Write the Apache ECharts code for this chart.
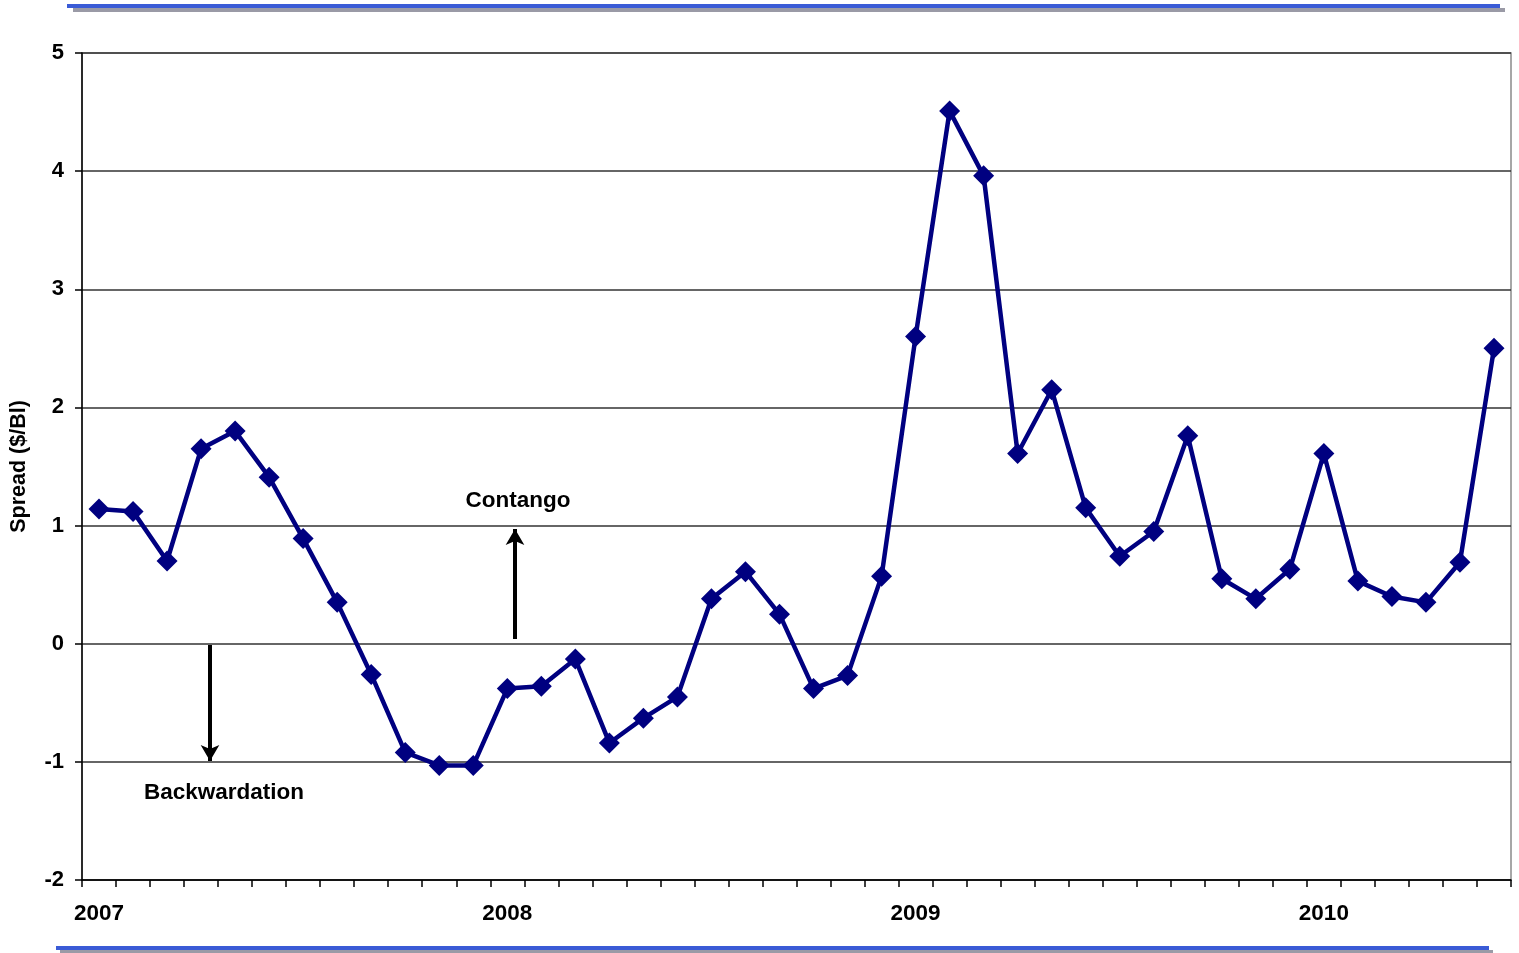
<!DOCTYPE html>
<html>
<head>
<meta charset="utf-8">
<title>Spread ($/Bl)</title>
<script src="https://cdn.jsdelivr.net/npm/echarts@6/dist/echarts.min.js"></script>
<style>
  html, body { margin: 0; padding: 0; background: #fff; }
  #chart { width: 1519px; height: 953px; }
</style>
</head>
<body>
<div id="chart"></div>
<script>
// Monthly spread, Jan 2007 – Jun 2010
const months = [
  '2007-01','2007-02','2007-03','2007-04','2007-05','2007-06','2007-07','2007-08','2007-09','2007-10','2007-11','2007-12',
  '2008-01','2008-02','2008-03','2008-04','2008-05','2008-06','2008-07','2008-08','2008-09','2008-10','2008-11','2008-12',
  '2009-01','2009-02','2009-03','2009-04','2009-05','2009-06','2009-07','2009-08','2009-09','2009-10','2009-11','2009-12',
  '2010-01','2010-02','2010-03','2010-04','2010-05','2010-06'
];
const spread = [
  1.14, 1.12, 0.70, 1.65, 1.80, 1.41, 0.89, 0.35, -0.26, -0.92, -1.03, -1.03,
  -0.38, -0.36, -0.13, -0.84, -0.63, -0.45, 0.38, 0.61, 0.25, -0.38, -0.27, 0.57,
  2.60, 4.51, 3.96, 1.61, 2.15, 1.15, 0.74, 0.95, 1.76, 0.55, 0.38, 0.63,
  1.61, 0.53, 0.40, 0.35, 0.69, 2.50
];
const yTicks = { min: -2, max: 5, step: 1 };
const yAxisTitle = 'Spread ($/Bl)';
const notes = { up: 'Contango', down: 'Backwardation' };

const FONT = '"Liberation Sans", Arial, sans-serif';
const chart = echarts.init(document.getElementById('chart'), null, { renderer: 'canvas' });

chart.setOption({
  backgroundColor: '#ffffff',
  animation: false,
  grid: {
    left: 82, right: 8, top: 53, bottom: 73,
    outerBoundsMode: 'none',
    containLabel: false,
    show: true, borderColor: '#8a8a8a', borderWidth: 1.5, backgroundColor: 'transparent'
  },
  xAxis: {
    type: 'category',
    data: months,
    boundaryGap: true,
    axisLine: { onZero: false, lineStyle: { color: '#000', width: 1.5 } },
    axisTick: { show: true, interval: 0, length: 7, lineStyle: { color: '#000', width: 1.5 } },
    axisLabel: {
      interval: 0, margin: 22,
      color: '#000', fontFamily: FONT, fontWeight: 'bold', fontSize: 22.5,
      formatter: v => v.endsWith('-01') ? v.slice(0, 4) : ''
    },
    splitLine: { show: false }
  },
  yAxis: {
    type: 'value',
    min: yTicks.min, max: yTicks.max, interval: yTicks.step,
    name: yAxisTitle,
    nameLocation: 'middle', nameGap: 52, nameRotate: 90,
    nameTextStyle: { color: '#000', fontFamily: FONT, fontWeight: 'bold', fontSize: 21.5 },
    axisLine: { show: true, lineStyle: { color: '#000', width: 1.5 } },
    axisTick: { show: true, length: 7, lineStyle: { color: '#000', width: 1.5 } },
    axisLabel: { margin: 18, color: '#000', fontFamily: FONT, fontWeight: 'bold', fontSize: 22 },
    splitLine: { show: true, lineStyle: { color: '#333', width: 1.5 } }
  },
  series: [{
    type: 'line',
    data: spread,
    symbol: 'diamond',
    symbolSize: 21,
    lineStyle: { color: '#000080', width: 4.5 },
    itemStyle: { color: '#000080' },
    z: 5,
    markLine: {
      silent: true,
      animation: false,
      symbolSize: [14, 16],
      label: { show: false },
      lineStyle: { color: '#000', width: 4, type: 'solid' },
      data: [
        [{ x: 515, y: 639, symbol: 'none' }, { x: 515, y: 529, symbol: 'arrow' }],
        [{ x: 210, y: 645, symbol: 'none' }, { x: 210, y: 761, symbol: 'arrow' }]
      ]
    }
  }],
  graphic: [
    // top rule with drop shadow
    { type: 'rect', shape: { x: 73, y: 8, width: 1432, height: 4 }, style: { fill: '#9a9aa6' }, z: 1 },
    { type: 'rect', shape: { x: 67, y: 4, width: 1433, height: 4 }, style: { fill: '#3a5bd6' }, z: 2 },
    // bottom rule with drop shadow
    { type: 'rect', shape: { x: 60, y: 950, width: 1433, height: 4 }, style: { fill: '#9a9aa6' }, z: 1 },
    { type: 'rect', shape: { x: 56, y: 946, width: 1433, height: 4 }, style: { fill: '#3a5bd6' }, z: 2 },
    // annotation labels
    { type: 'text', x: 518, y: 501, style: { text: notes.up, fill: '#000', font: 'bold 22.5px ' + FONT, textAlign: 'center', textVerticalAlign: 'middle' }, z: 10 },
    { type: 'text', x: 224, y: 793, style: { text: notes.down, fill: '#000', font: 'bold 22.5px ' + FONT, textAlign: 'center', textVerticalAlign: 'middle' }, z: 10 }
  ]
});
</script>
</body>
</html>
